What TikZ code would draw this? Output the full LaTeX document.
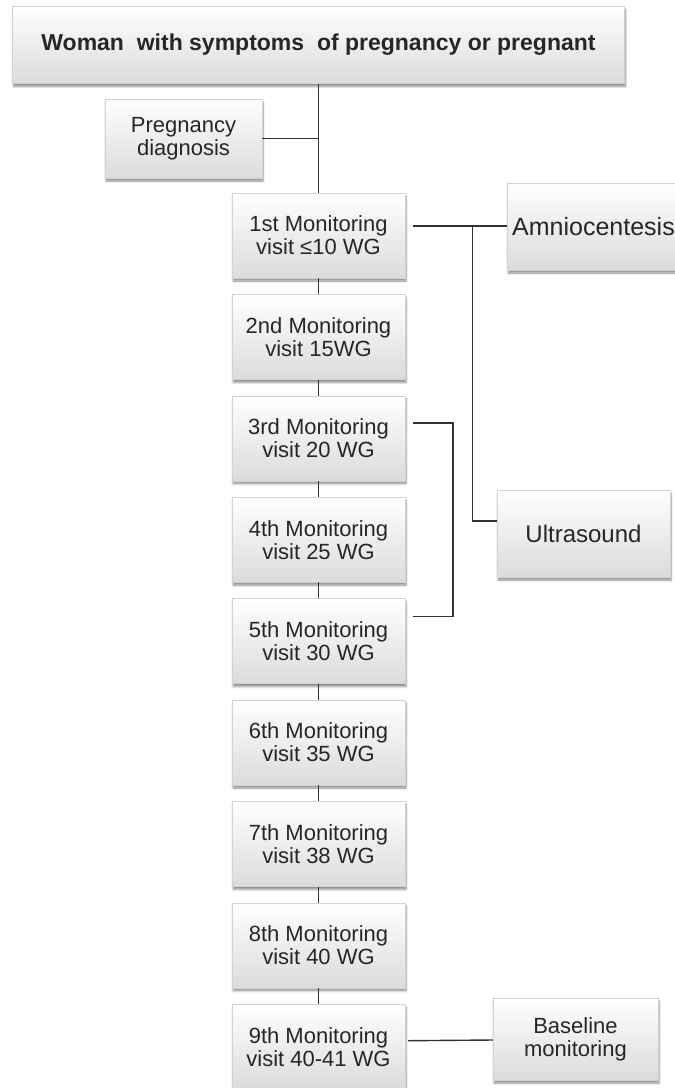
\documentclass[tikz,border=0pt]{standalone}
\usepackage{fontspec}
\setmainfont{Liberation Sans}
\usetikzlibrary{shadows.blur}

\tikzset{
    box/.style={draw=gray!35, top color=white, bottom color=gray!28,
        blur shadow={shadow xshift=1pt, shadow yshift=-3pt, shadow blur steps=6, shadow opacity=45},
        align=center, text=black!85, inner sep=0pt,
        font=\fontsize{22}{23}\selectfont},
    visit/.style={box, minimum width=173pt, minimum height=85pt},
    link/.style={draw=black!80, line width=1.4pt},
}

\begin{document}
\begin{tikzpicture}[x=1pt, y=-1pt]
    \useasboundingbox (0,0) rectangle (675,1088);
    \clip (0,0) rectangle (675,1088);

    % Header and diagnosis
    \node[box, minimum width=612pt, minimum height=77pt, font=\fontsize{23}{24}\selectfont\bfseries]
        (woman) at (318.5, 45) {Woman\ \ with symptoms\ \ of pregnancy or pregnant};
    \node[box, minimum width=157pt, minimum height=79pt] (diag) at (183.5, 138.5) {Pregnancy\\diagnosis};

    % Monitoring visits
    \foreach \i/\ord/\wk in {1/1st/{≤10 WG}, 2/2nd/15WG, 3/3rd/20 WG, 4/4th/25 WG, 5/5th/30 WG,
                             6/6th/35 WG, 7/7th/38 WG, 8/8th/40 WG, 9/9th/40-41 WG} {
        \node[visit] (m\i) at (318.5, {235.5 + (\i-1)*101.4}) {\ord{} Monitoring\\visit \wk};
    }

    % Exams on the right
    \node[box, text width=180pt, minimum height=87pt, anchor=west, align=left, inner xsep=5pt,
        font=\fontsize{25}{26}\selectfont] (amnio) at (507, 226.5) {Amniocentesis};
    \node[box, minimum width=173pt, minimum height=87pt, font=\fontsize{24}{25}\selectfont]
        (ultra) at (583.5, 533.5) {Ultrasound};
    \node[box, minimum width=165pt, minimum height=82pt] (base) at (575.5, 1039) {Baseline\\monitoring};

    % Connections along the main line
    \draw[link] (woman.south -| m1.north) -- (m1.north);
    \draw[link] (diag.east) -- (diag.east -| m1.north);
    \foreach \i [evaluate=\i as \j using int(\i+1)] in {1,...,8} {
        \draw[link] (m\i.south) -- (m\j.north);
    }

    % Connections to the exams
    \coordinate (ja) at ([xshift=67pt, yshift=9.5pt]m1.east);
    \coordinate (ju) at ([xshift=-44pt, yshift=12.5pt]ultra.west);
    \draw[link] ([xshift=8pt, yshift=9.5pt]m1.east) -- (amnio.west |- ja);
    \draw[link] (ja) -- (ja |- ju) -- (ultra.west |- ju);
    \draw[link] ([xshift=8pt, yshift=15.5pt]m3.east) -| (ju) |- ([xshift=8pt, yshift=24.5pt]m5.east);
    \draw[link] ([xshift=3pt, yshift=6pt]m9.east) -- (base.west |- 0,1040);
\end{tikzpicture}
\end{document}
